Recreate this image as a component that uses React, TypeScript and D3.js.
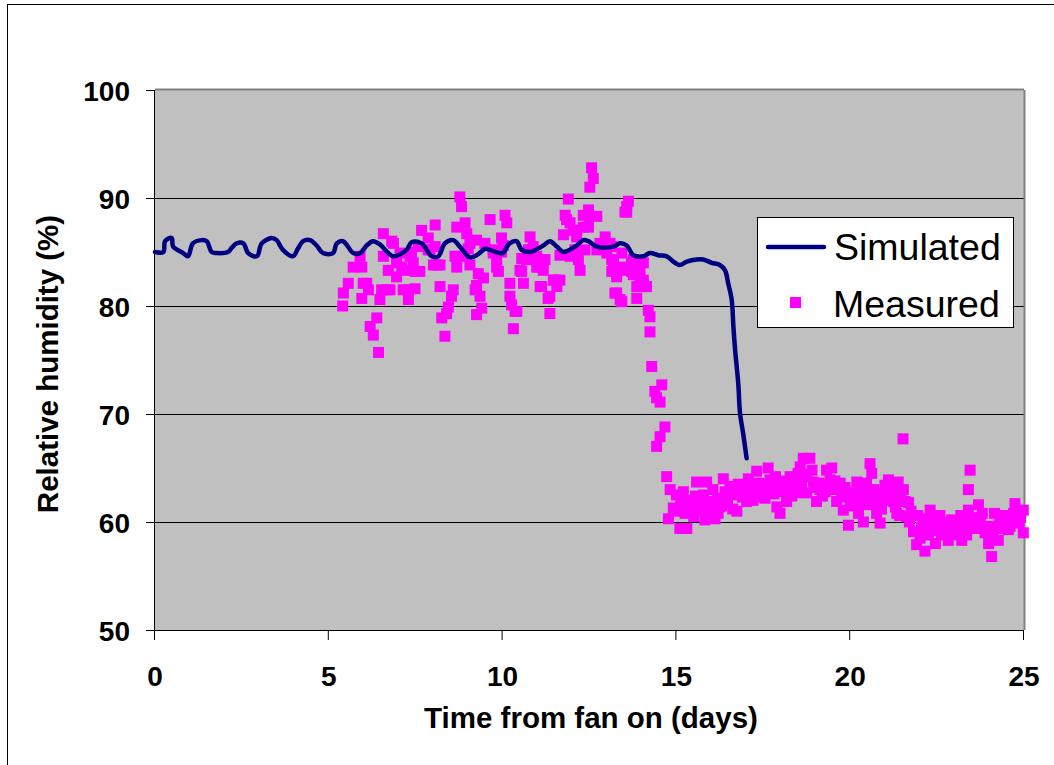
import React from "react";
import * as d3 from "d3";

const xTicks = [0, 5, 10, 15, 20, 25];
const yTicks = [50, 60, 70, 80, 90, 100];
const seriesNames = ["Simulated", "Measured"];
const xTitle = "Time from fan on (days)";
const yTitle = "Relative humidity (%)";

const simDays = [
  0.0, 0.24, 0.29, 0.48, 0.52, 0.81, 0.95, 1.09, 1.34, 1.49, 1.63, 1.78, 2.1, 2.21, 2.35, 2.54, 2.68, 2.93,
  3.07, 3.36, 3.5, 3.68, 3.97, 4.11, 4.26, 4.46, 4.65, 4.83, 5.12, 5.23, 5.41, 5.55, 5.7, 5.9, 6.09, 6.27,
  6.47, 6.71, 6.86, 7.24, 7.38, 7.67, 7.96, 8.15, 8.34, 8.58, 8.77, 9.06, 9.3, 9.5, 9.8, 10.0, 10.2, 10.4,
  10.55, 10.79, 11.17, 11.36, 11.56, 11.75, 12.13, 12.32, 12.47, 12.71, 13.19, 13.38, 13.57, 13.76, 14.05,
  14.24, 14.48, 14.72, 14.96, 15.1, 15.3, 15.58, 15.77, 16.02, 16.25, 16.4, 16.49, 16.59, 16.64, 16.69,
  16.78, 16.83, 16.92, 17.02,
];
const simRH = [
  85.0, 85.0, 86.0, 86.3, 85.5, 84.9, 84.6, 85.8, 86.1, 86.0, 85.0, 84.9, 85.0, 85.4, 85.8, 85.8, 84.9, 84.6,
  85.8, 86.3, 86.1, 85.2, 84.6, 85.3, 86.0, 86.1, 85.6, 84.9, 84.9, 85.8, 86.0, 85.5, 84.9, 84.9, 85.6, 86.0,
  85.7, 84.9, 84.6, 85.2, 85.9, 85.8, 84.6, 84.6, 85.8, 86.1, 85.5, 84.5, 84.8, 85.3, 85.0, 84.9, 85.8, 86.0,
  85.2, 85.0, 85.6, 86.0, 85.5, 85.0, 85.6, 86.1, 86.0, 85.5, 85.5, 85.8, 85.6, 84.7, 84.6,
  84.9, 84.7, 84.6, 84.0, 83.8, 84.1, 84.3, 84.3, 84.0, 83.8, 83.3, 82.1, 80.6, 78.1, 75.9,
  72.8, 70.1, 68.2, 65.9,
];

const measDays = [
  5.4, 5.42, 5.56, 5.7, 5.9, 5.95, 5.99, 5.95, 6.09, 6.14, 6.19, 6.28, 6.38, 6.43, 6.47, 6.52, 6.57, 6.57,
  6.67, 6.71, 6.76, 6.81, 6.86, 6.95, 6.95, 7.05, 7.1, 7.14, 7.24, 7.29, 7.29, 7.34, 7.38, 7.43, 7.48, 7.48,
  7.58, 7.62, 7.67, 7.86, 7.86, 7.91, 8.01, 8.06, 8.06, 8.1, 8.2, 8.2, 8.25, 8.34, 8.39, 8.44, 8.53, 8.58,
  8.63, 8.68, 8.68, 8.68, 8.77, 8.82, 8.87, 8.92, 8.97, 9.01, 9.06, 9.06, 9.21, 9.25, 9.25, 9.25, 9.3, 9.35,
  9.4, 9.45, 9.49, 9.64, 9.73, 9.73, 9.83, 9.83, 9.88, 9.97, 9.97, 10.07, 10.12, 10.02, 10.21, 10.21, 10.26,
  10.36, 10.31, 10.41, 10.5, 10.55, 10.55, 10.6, 10.69, 10.74, 10.79, 10.79, 10.88, 10.88, 10.98, 10.98,
  11.08, 11.08, 11.12, 11.17, 11.22, 11.31, 11.36, 11.36, 11.46, 11.51, 11.56, 11.65, 11.65, 11.75, 11.8,
  11.84, 11.89, 11.94, 11.94, 12.03, 12.08, 12.13, 12.13, 12.18, 12.23, 12.32, 12.32, 12.37, 12.47, 12.47,
  12.51, 12.51, 12.56, 12.61, 12.71, 12.71, 12.8, 12.86, 12.95, 13.0, 13.09, 13.14, 13.14, 13.14, 13.19,
  13.19, 13.23, 13.28, 13.28, 13.28, 13.38, 13.43, 13.43, 13.47, 13.52, 13.57, 13.62, 13.57, 13.57, 13.71,
  13.71, 13.76, 13.76, 13.86, 13.86, 13.86, 13.95, 13.95, 13.95, 14.0, 14.05, 14.05, 14.1, 14.14, 14.19,
  14.24, 14.24, 14.29, 14.38, 14.43, 14.43, 14.53, 14.53, 14.58, 14.67, 14.72,
  14.82, 14.77, 14.91, 15.1, 15.3, 15.2, 15.34, 15.39, 15.58, 15.63, 15.73, 15.82, 15.87, 16.02, 16.11,
  16.25, 16.35, 16.4, 16.54, 16.74, 16.69, 16.83, 17.02, 17.07, 17.17, 17.31, 17.36, 17.4, 17.64, 17.69,
  17.64, 17.79, 17.89, 17.98, 18.17, 18.22, 18.27, 18.41, 18.46, 18.56, 18.65, 18.84, 18.75, 18.75, 18.94,
  19.03, 19.13, 19.32, 19.42, 19.47, 19.51, 19.61, 19.71, 19.8, 19.95, 19.9, 20.09, 20.19, 20.28, 20.38,
  20.33, 20.47, 20.57, 20.62, 20.67, 20.81, 20.86, 20.76, 20.95, 21.1, 21.15, 21.24, 21.38, 21.34, 21.53,
  21.58, 21.62, 21.82, 21.91, 22.01, 22.15, 22.1, 22.3, 22.35, 22.45, 22.58, 22.68, 22.82, 22.92, 23.06,
  23.21, 23.3, 23.4, 23.45, 23.4, 23.55, 23.69, 23.74, 23.88, 23.98, 24.07, 24.12, 24.26, 24.36, 24.41,
  24.55, 24.65, 24.74, 24.84, 24.98, 24.98, 21.52,
  15.0, 15.05, 15.15, 15.25, 15.45, 15.5, 15.68, 15.78, 15.92, 16.05, 16.18, 16.3, 16.47, 16.6, 16.78, 16.9,
  17.12, 17.25, 17.5, 17.55, 17.72, 17.85, 18.05, 18.12, 18.32, 18.5, 18.6, 18.9, 19.0, 19.2, 19.37, 19.56,
  19.75, 19.85, 20.0, 20.14, 20.24, 20.42, 20.52, 20.72, 20.9, 21.0, 21.2, 21.3, 21.45, 21.7, 21.75, 21.95,
  22.05, 22.2, 22.4, 22.5, 22.62, 22.75, 22.88, 23.0, 23.12, 23.25, 23.35, 23.5, 23.6, 23.8, 23.92, 24.02,
  24.2, 24.3, 24.48, 24.6, 24.7, 24.9,
  15.12, 15.4, 15.55, 15.95, 16.2, 16.45, 16.62, 16.95, 17.2, 17.45, 17.8, 18.0, 18.38, 18.7, 19.1, 19.28,
  19.65, 20.05, 20.3, 20.6, 20.98, 21.25, 21.42, 21.68, 22.25, 22.55, 22.98, 23.18, 23.65, 24.15, 24.4, 24.8,
];
const measRH = [
  80.0, 81.2, 82.1, 83.6, 84.6, 83.6, 82.1, 80.7, 82.1, 81.5, 78.1, 77.3, 78.9, 75.7, 80.6, 81.5, 86.7, 84.6,
  81.5, 83.3, 81.5, 86.0, 85.8, 84.0, 82.7, 84.9, 83.6, 81.5, 83.3, 80.6, 81.5, 84.6, 85.0, 84.0, 81.6, 83.2,
  85.5, 83.2, 87.0, 86.3, 85.2, 85.2, 83.8, 87.5, 85.5, 83.8, 81.8, 83.8, 78.9, 77.2, 79.3, 79.9, 80.9, 81.5,
  84.6, 87.3, 84.6, 83.6, 90.1, 89.2, 84.6, 87.7, 86.7, 85.3, 85.8, 83.8, 81.5, 86.1, 81.9, 79.2, 83.0, 80.9,
  79.8, 82.6, 85.8, 88.0, 84.9, 85.2, 83.6, 84.3, 83.2, 86.3, 85.0, 88.4, 87.7, 85.6, 82.1, 80.9, 80.1,
  79.5, 77.9, 79.5, 83.3, 84.4, 83.2, 82.1, 84.3, 85.2, 86.4, 85.2, 84.3, 85.5, 83.6, 84.6,
  81.8, 83.6, 81.8, 83.3, 84.3, 80.7, 80.9, 79.3, 82.4, 82.4, 81.8, 82.4, 84.7, 86.6, 88.4,
  88.0, 89.9, 87.7, 84.6, 87.0, 85.2, 87.0, 86.4, 84.3, 83.3, 88.4, 87.3, 85.2, 88.9, 87.3,
  91.0, 88.3, 92.8, 91.8, 88.3, 85.2, 85.8, 85.6, 86.4, 84.9, 85.8, 85.5, 84.3, 83.2, 84.0,
  83.3, 81.2, 83.0, 82.7, 81.2, 80.6, 84.9, 80.4, 83.6, 88.7, 89.2, 89.7, 88.7, 83.3, 84.0,
  83.2, 84.3, 82.9, 83.8, 81.8, 80.7, 83.0, 84.0, 82.7, 81.8, 84.0, 82.4, 81.8, 81.8, 79.6,
  79.0, 77.6, 74.4, 72.1, 71.5, 67.0, 71.1, 67.9, 72.7, 68.8, 64.2,
  63.0, 60.3, 61.3, 59.4, 59.4, 62.8, 61.9, 61.1, 63.7, 62.2, 61.0, 60.2, 63.7, 61.9, 60.3,
  61.4, 64.0, 62.8, 63.3, 61.0, 62.7, 63.0, 61.9, 64.0, 63.0, 64.7, 63.6, 62.3, 65.0, 63.9,
  62.7, 63.3, 61.4, 60.8, 61.9, 63.3, 64.2, 63.6, 62.7, 65.1, 65.9, 65.9, 64.4, 62.7, 63.7,
  61.9, 63.0, 64.8, 63.9, 65.0, 63.0, 61.9, 63.6, 61.1, 59.7, 62.3, 62.7, 63.7, 61.7, 60.0,
  63.0, 63.6, 65.4, 64.5, 63.0, 61.7, 59.9, 60.8, 62.7, 63.9, 63.0, 61.9, 63.7, 60.8, 63.0,
  61.9, 60.5, 59.1, 57.9, 58.5, 57.3, 59.9, 61.1, 59.6, 58.0, 60.6, 59.3, 58.3, 60.2, 59.6,
  58.3, 60.2, 61.1, 64.8, 63.0, 59.6, 61.6, 60.3, 59.0, 58.0, 56.8, 59.3, 58.3, 59.9, 60.6,
  59.3, 60.2, 61.7, 59.9, 61.1, 59.0, 67.7,
  62.5, 61.0, 61.8, 60.8, 62.0, 60.5, 61.5, 62.5, 60.8, 63.0, 62.2, 61.5, 61.8, 62.5, 63.5, 62.3,
  62.6, 63.2, 63.5, 62.2, 62.8, 64.2, 62.8, 63.8, 62.4, 64.5, 63.2, 64.8, 63.2, 62.4, 63.4, 63.8,
  62.6, 63.2, 61.5, 62.2, 60.8, 62.2, 61.6, 62.4, 61.2, 63.4, 62.4, 61.4, 62.4, 60.0, 61.0, 60.6,
  59.5, 60.3, 60.6, 59.2, 58.8, 60.0, 59.0, 58.8, 59.8, 59.2, 58.8, 60.4, 59.5, 60.8, 59.6, 58.6,
  59.6, 60.4, 60.0, 59.6, 60.8, 60.4,
  61.6, 61.2, 62.4, 61.6, 60.8, 62.6, 61.2, 63.0, 62.0, 62.8, 62.6, 63.6, 63.0, 64.2, 63.6, 62.8,
  63.2, 62.6, 63.2, 62.6, 62.0, 62.8, 60.6, 61.8, 58.8, 60.2, 59.8, 60.6, 59.4, 60.8, 59.4, 60.2,
];

const W = 1054;
const H = 765;
const FONT = "'Liberation Sans', Arial, Helvetica, sans-serif";

export default function App() {
  const x = d3.scaleLinear().domain([0, 25]).range([155, 1024]);
  const y = d3.scaleLinear().domain([50, 100]).range([630, 90]);
  const line = d3
    .line<number>()
    .x((_, i) => x(simDays[i]))
    .y((d) => y(d))
    .curve(d3.curveCatmullRom.alpha(0.5));
  const pts = measDays.map((d, i) => [d, measRH[i]]);
  const ms = 11;

  return (
    <svg
      width={W}
      height={H}
      style={{ position: "absolute", left: 0, top: 0, background: "#fff" }}
      fontFamily={FONT}
    >
      <rect x={7.5} y={4.5} width={1200} height={900} fill="#fff" stroke="#000" strokeWidth={1} />
      <rect x={x(0)} y={y(100)} width={x(25) - x(0)} height={y(50) - y(100)} fill="#C0C0C0" />
      {yTicks
        .filter((t) => t > 50 && t < 100)
        .map((t) => (
          <line key={"g" + t} x1={x(0)} x2={x(25)} y1={y(t) + 0.5} y2={y(t) + 0.5} stroke="#000" strokeWidth={1} />
        ))}
      {/* plot border */}
      <line x1={x(0)} x2={x(25)} y1={y(100) - 0.5} y2={y(100) - 0.5} stroke="#808080" strokeWidth={2} />
      <line x1={x(25) + 0.5} x2={x(25) + 0.5} y1={y(100)} y2={y(50)} stroke="#808080" strokeWidth={2} />
      {/* axes */}
      <line x1={x(0) - 0.5} x2={x(0) - 0.5} y1={y(100)} y2={y(50)} stroke="#000" strokeWidth={1} />
      <line x1={x(0)} x2={x(25)} y1={y(50) + 0.5} y2={y(50) + 0.5} stroke="#000" strokeWidth={1} />
      {yTicks.map((t) => (
        <g key={"y" + t}>
          <line x1={x(0) - 9} x2={x(0)} y1={y(t) + 0.5} y2={y(t) + 0.5} stroke="#000" strokeWidth={1} />
          <text x={130} y={y(t) + 10.5} textAnchor="end" fontSize={28} fontWeight="bold" fill="#000">
            {t}
          </text>
        </g>
      ))}
      {xTicks.map((t) => (
        <g key={"x" + t}>
          <line x1={x(t) - 0.5} x2={x(t) - 0.5} y1={y(50)} y2={y(50) + 10} stroke="#000" strokeWidth={1} />
          <text x={x(t)} y={686} textAnchor="middle" fontSize={28} fontWeight="bold" fill="#000">
            {t}
          </text>
        </g>
      ))}
      <text x={591} y={728} textAnchor="middle" fontSize={29.5} fontWeight="bold" fill="#000">
        {xTitle}
      </text>
      <text
        transform={`translate(58,364) rotate(-90)`}
        textAnchor="middle"
        fontSize={29.5}
        fontWeight="bold"
        fill="#000"
      >
        {yTitle}
      </text>
      {/* measured points */}
      <g>
        {pts.map((p, i) => (
          <rect key={i} x={x(p[0]) - ms / 2} y={y(p[1]) - ms / 2} width={ms} height={ms} fill="#FF00FF" />
        ))}
      </g>
      {/* simulated line */}
      <path
        d={line(simRH) || ""}
        fill="none"
        stroke="#000080"
        strokeWidth={4.5}
        strokeLinejoin="round"
        strokeLinecap="round"
      />
      {/* legend */}
      <rect x={757.5} y={217.5} width={256} height={110} fill="#fff" stroke="#000" strokeWidth={1} />
      <line x1={768} x2={824} y1={247} y2={247} stroke="#000080" strokeWidth={4.5} strokeLinecap="round" />
      <text x={834} y={260} fontSize={37.5} fill="#000">
        {seriesNames[0]}
      </text>
      <rect x={790} y={297} width={11} height={11} fill="#FF00FF" />
      <text x={833} y={317} fontSize={37.5} fill="#000">
        {seriesNames[1]}
      </text>
    </svg>
  );
}
